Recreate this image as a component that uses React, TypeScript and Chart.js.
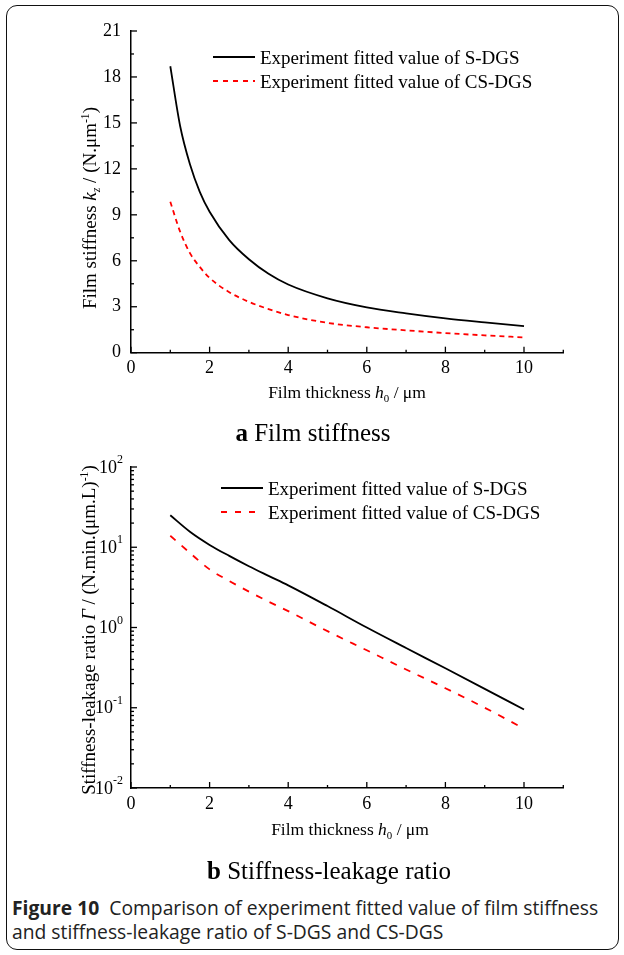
import React, { useEffect, useRef } from "react";
import { Chart, registerables } from "chart.js";
Chart.register(...registerables);

// ---- data (a) film stiffness ----
const thicknessA = [1, 1.25, 1.5, 1.75, 2, 2.5, 3, 3.5, 4, 5, 6, 7, 8, 9, 10];
const stiffnessSDGS = [18.7, 14.8, 12.3, 10.5, 9.2, 7.35, 6.1, 5.15, 4.45, 3.55, 2.96, 2.57, 2.24, 1.98, 1.74];
const stiffnessCSDGS = [9.85, 7.9, 6.5, 5.6, 4.88, 3.95, 3.32, 2.85, 2.46, 1.95, 1.66, 1.46, 1.28, 1.13, 1.0];

// ---- data (b) stiffness-leakage ratio ----
const thicknessB = [1, 1.5, 2, 2.5, 3, 3.5, 4, 5, 6, 7, 8, 9, 10];
const ratioSDGS = [25, 15.6, 10.7, 7.8, 5.8, 4.4, 3.35, 1.85, 1.0, 0.555, 0.31, 0.172, 0.095];
const ratioCSDGS = [13.9, 8.5, 5.3, 3.8, 2.8, 2.1, 1.6, 0.9, 0.52, 0.3, 0.175, 0.1, 0.055];

// ---- ticks ----
const xMajorTicks = [0, 2, 4, 6, 8, 10];
const xMinorTicks = [1, 3, 5, 7, 9, 11];
const yMajorTicksA = [0, 3, 6, 9, 12, 15, 18, 21];
const yMinorTicksA = [1.5, 4.5, 7.5, 10.5, 13.5, 16.5, 19.5];
const yDecadesB = [-2, -1, 0, 1, 2];

const legendLabels = ["Experiment fitted value of S-DGS", "Experiment fitted value of CS-DGS"];

const SERIF = "'Liberation Serif', 'Times New Roman', serif";

const axisDecor = {
  id: "axisDecor",
  afterDraw(chart: any, _args: any, opts: any) {
    const { ctx, chartArea, scales } = chart;
    const xs = scales.x;
    const ys = scales.y;
    const L = chartArea.left;
    const B = chartArea.bottom;
    ctx.save();
    ctx.strokeStyle = "#000";
    ctx.lineWidth = 1.3;
    const seg = (x1: number, y1: number, x2: number, y2: number) => {
      ctx.beginPath();
      ctx.moveTo(x1, y1);
      ctx.lineTo(x2, y2);
      ctx.stroke();
    };
    for (const v of opts.xMajor) {
      const p = xs.getPixelForValue(v);
      seg(p, B, p, B - 6);
    }
    for (const v of opts.xMinor) {
      const p = xs.getPixelForValue(v);
      seg(p, B, p, B - 3);
    }
    for (const v of opts.yMajor) {
      const p = ys.getPixelForValue(v);
      seg(L, p, L + 6, p);
    }
    for (const v of opts.yMinor) {
      const p = ys.getPixelForValue(v);
      seg(L, p, L + 3, p);
    }
    if (opts.logLabels) {
      ctx.fillStyle = "#000";
      ctx.textBaseline = "middle";
      ctx.textAlign = "left";
      for (const d of opts.logLabels) {
        const y = ys.getPixelForValue(Math.pow(10, d));
        const exp = d < 0 ? "-" + Math.abs(d) : String(d);
        ctx.font = "12px " + SERIF;
        const ew = ctx.measureText(exp).width;
        ctx.font = "18px " + SERIF;
        const bw = ctx.measureText("10").width;
        const xEnd = L - 8;
        ctx.fillText("10", xEnd - ew - bw, y + 1);
        ctx.font = "12px " + SERIF;
        ctx.fillText(exp, xEnd - ew, y - 7);
      }
    }
    ctx.restore();
  },
};

function makeX() {
  return {
    type: "linear",
    min: 0,
    max: 11,
    afterBuildTicks: (s: any) => {
      s.ticks = xMajorTicks.map((v) => ({ value: v }));
    },
    afterFit: (s: any) => {
      s.height = 40;
    },
    grid: { display: false, drawTicks: false },
    border: { display: true, color: "#000", width: 1.5 },
    ticks: { color: "#000", padding: 5, font: { family: SERIF, size: 18 }, maxRotation: 0, autoSkip: false },
  };
}

function ChartA() {
  const ref = useRef<HTMLCanvasElement>(null);
  useEffect(() => {
    const chart = new Chart(ref.current as HTMLCanvasElement, {
      type: "line",
      data: {
        datasets: [
          {
            label: legendLabels[0],
            data: thicknessA.map((x, i) => ({ x, y: stiffnessSDGS[i] })),
            borderColor: "#000",
            borderWidth: 1.8,
            pointRadius: 0,
            cubicInterpolationMode: "monotone",
          },
          {
            label: legendLabels[1],
            data: thicknessA.map((x, i) => ({ x, y: stiffnessCSDGS[i] })),
            borderColor: "#ff0000",
            borderWidth: 1.8,
            borderDash: [5, 4],
            pointRadius: 0,
            cubicInterpolationMode: "monotone",
          },
        ],
      },
      options: {
        animation: false,
        responsive: false,
        layout: { padding: { left: 0, top: 31, right: 60.7, bottom: 27.3 } },
        plugins: {
          legend: { display: false },
          tooltip: { enabled: false },
          axisDecor: { xMajor: xMajorTicks, xMinor: xMinorTicks, yMajor: yMajorTicksA, yMinor: yMinorTicksA },
        } as any,
        scales: {
          x: makeX() as any,
          y: {
            type: "linear",
            min: 0,
            max: 21,
            afterBuildTicks: (s: any) => {
              s.ticks = yMajorTicksA.map((v) => ({ value: v }));
            },
            afterFit: (s: any) => {
              s.width = 131;
            },
            grid: { display: false, drawTicks: false },
            border: { display: true, color: "#000", width: 1.5 },
            ticks: { color: "#000", padding: 10, font: { family: SERIF, size: 18 } },
          },
        },
      },
      plugins: [axisDecor],
    } as any);
    return () => chart.destroy();
  }, []);
  return <canvas ref={ref} width={624} height={420} style={{ position: "absolute", left: 0, top: 0, width: 624, height: 420 }} />;
}

function ChartB() {
  const ref = useRef<HTMLCanvasElement>(null);
  useEffect(() => {
    const chart = new Chart(ref.current as HTMLCanvasElement, {
      type: "line",
      data: {
        datasets: [
          {
            label: legendLabels[0],
            data: thicknessB.map((x, i) => ({ x, y: ratioSDGS[i] })),
            borderColor: "#000",
            borderWidth: 1.8,
            pointRadius: 0,
            cubicInterpolationMode: "monotone",
          },
          {
            label: legendLabels[1],
            data: thicknessB.map((x, i) => ({ x, y: ratioCSDGS[i] })),
            borderColor: "#ff0000",
            borderWidth: 1.8,
            borderDash: [7, 8],
            pointRadius: 0,
            cubicInterpolationMode: "monotone",
          },
        ],
      },
      options: {
        animation: false,
        responsive: false,
        layout: { padding: { left: 0, top: 27, right: 60.7, bottom: 12 } },
        plugins: {
          legend: { display: false },
          tooltip: { enabled: false },
          axisDecor: {
            xMajor: xMajorTicks,
            xMinor: xMinorTicks,
            yMajor: yDecadesB.map((d) => Math.pow(10, d)),
            yMinor: yDecadesB.slice(0, -1).flatMap((d) => [2, 3, 4, 5, 6, 7, 8, 9].map((m) => m * Math.pow(10, d))),
            logLabels: yDecadesB,
          },
        } as any,
        scales: {
          x: makeX() as any,
          y: {
            type: "logarithmic",
            min: 0.01,
            max: 100,
            afterFit: (s: any) => {
              s.width = 131;
            },
            grid: { display: false, drawTicks: false },
            border: { display: true, color: "#000", width: 1.5 },
            ticks: { display: false },
          },
        },
      },
      plugins: [axisDecor],
    } as any);
    return () => chart.destroy();
  }, []);
  return <canvas ref={ref} width={624} height={400} style={{ position: "absolute", left: 0, top: 440, width: 624, height: 400 }} />;
}

const abs = (left: number, top: number, extra: React.CSSProperties = {}): React.CSSProperties => ({
  position: "absolute",
  left,
  top,
  transform: "translate(-50%, -50%)",
  whiteSpace: "nowrap",
  fontFamily: SERIF,
  color: "#000",
  lineHeight: 1,
  ...extra,
});

const subStyle: React.CSSProperties = { fontSize: "0.62em", verticalAlign: "-0.35em", lineHeight: 0 };
const supStyle: React.CSSProperties = { fontSize: "0.62em", verticalAlign: "0.55em", lineHeight: 0 };

function Legend({ left, top, lineLeft, lineWidth, dash }: { left: number; top: number; lineLeft: number; lineWidth: number; dash: string }) {
  return (
    <>
      <div style={{ position: "absolute", left: lineLeft, top: top - 1, width: lineWidth, height: 2, background: "#000" }} />
      <div style={{ ...abs(left, top, { transform: "translate(0, -50%)", fontSize: 19 }) }}>{legendLabels[0]}</div>
      <div
        style={{
          position: "absolute",
          left: lineLeft,
          top: top + 24 - 1,
          width: lineWidth,
          height: 2,
          background: dash,
        }}
      />
      <div style={{ ...abs(left, top + 24, { transform: "translate(0, -50%)", fontSize: 19 }) }}>{legendLabels[1]}</div>
    </>
  );
}

export default function App() {
  return (
    <div style={{ position: "absolute", left: 0, top: 0, width: 624, height: 955, background: "#fff", overflow: "hidden" }}>
      <div
        style={{
          position: "absolute",
          left: 5.5,
          top: 4.5,
          width: 613,
          height: 945,
          border: "1px solid #111",
          borderRadius: 11,
          boxSizing: "border-box",
        }}
      />
      <ChartA />
      <ChartB />

      {/* chart a texts */}
      <div style={abs(89, 207.5, { transform: "translate(-50%, -50%) rotate(-90deg)", fontSize: 19 })}>
        Film stiffness <i>k</i>
        <sub style={subStyle}>
          <i>z</i>
        </sub>{" "}
        / (N.μm<sup style={supStyle}>-1</sup>)
      </div>
      <div style={abs(347, 393, { fontSize: 17.5 })}>
        Film thickness <i>h</i>
        <sub style={subStyle}>0</sub> / μm
      </div>
      <div style={abs(313, 432, { fontSize: 25 })}>
        <b>a</b> Film stiffness
      </div>
      <Legend left={260} top={57} lineLeft={213} lineWidth={42} dash="repeating-linear-gradient(to right, #ff0000 0 5px, transparent 5px 10px)" />

      {/* chart b texts */}
      <div style={abs(88, 630, { transform: "translate(-50%, -50%) rotate(-90deg)", fontSize: 19 })}>
        Stiffness-leakage ratio <i>Γ</i> / (N.min.(μm.L)<sup style={supStyle}>-1</sup>)
      </div>
      <div style={abs(350, 830, { fontSize: 17.5 })}>
        Film thickness <i>h</i>
        <sub style={subStyle}>0</sub> / μm
      </div>
      <div style={abs(329, 870, { fontSize: 25 })}>
        <b>b</b> Stiffness-leakage ratio
      </div>
      <Legend left={268} top={488} lineLeft={221} lineWidth={42} dash="repeating-linear-gradient(to right, #ff0000 0 6px, transparent 6px 14px)" />

      {/* caption */}
      <div
        style={{
          position: "absolute",
          left: 12,
          top: 896,
          width: 610,
          fontFamily: "'Open Sans', 'Noto Sans', sans-serif",
          fontSize: 19.3,
          lineHeight: "24px",
          whiteSpace: "nowrap",
          color: "#222",
        }}
      >
        <b>Figure 10</b>&nbsp; Comparison of experiment fitted value of film stiffness
        <br />
        and stiffness-leakage ratio of S-DGS and CS-DGS
      </div>
    </div>
  );
}
